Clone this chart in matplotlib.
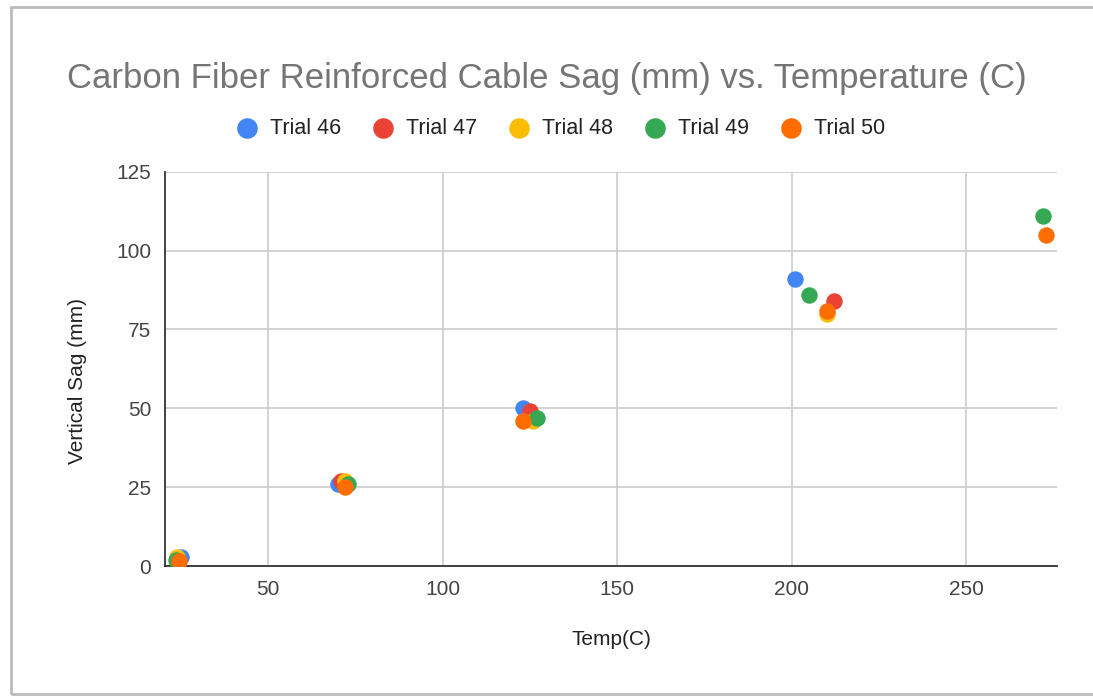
import matplotlib.pyplot as plt
from matplotlib.patches import Rectangle

plt.rcParams['font.family'] = ['Liberation Sans', 'DejaVu Sans']

# data: (temp, sag) per trial
trials = ["Trial 46", "Trial 47", "Trial 48", "Trial 49", "Trial 50"]
colors = ["#4285F4", "#EA4335", "#FBBC04", "#34A853", "#FF6D01"]

temp_46 = [25, 70, 123, 201]
sag_46 = [3, 26, 50, 91]
temp_47 = [24, 71, 125, 212]
sag_47 = [2, 27, 49, 84]
temp_48 = [24, 72, 126, 210]
sag_48 = [3, 27, 46, 80]
temp_49 = [23.5, 73, 127, 205, 272]
sag_49 = [2, 26, 47, 86, 111]
temp_50 = [24.5, 72, 123, 210, 273]
sag_50 = [1.5, 25, 46, 81, 105]

temps = [temp_46, temp_47, temp_48, temp_49, temp_50]
sags = [sag_46, sag_47, sag_48, sag_49, sag_50]

x_ticks = [50, 100, 150, 200, 250]
y_ticks = [0, 25, 50, 75, 100, 125]

fig = plt.figure(figsize=(10.93, 6.98), dpi=100)
ax = fig.add_axes([0.151, 0.189, 0.816, 0.565])

for name, c, t, s in zip(trials, colors, temps, sags):
    ax.scatter(t, s, s=140, color=c, label=name, zorder=3, linewidths=0)

ax.set_xlim(20.5, 276)
ax.set_ylim(0, 125)
ax.set_xticks(x_ticks)
ax.set_yticks(y_ticks)
ax.grid(True, color="#cccccc", linewidth=1.2, zorder=0)
ax.tick_params(length=0, labelsize=15, colors="#444444", pad=10)
for sp in ["top", "right"]:
    ax.spines[sp].set_visible(False)
for sp in ["left", "bottom"]:
    ax.spines[sp].set_color("#333333")
    ax.spines[sp].set_linewidth(1.3)

ax.set_xlabel("Temp(C)", fontsize=15, color="#222222", labelpad=22)
ax.set_ylabel("Vertical Sag (mm)", fontsize=15, color="#222222")
ax.yaxis.set_label_coords(-0.087, 0.47)

fig.text(0.5, 0.887, "Carbon Fiber Reinforced Cable Sag (mm) vs. Temperature (C)",
         ha="center", va="center", fontsize=25, color="#757575")

leg = ax.legend(loc="center", bbox_to_anchor=(0.512, 0.816), bbox_transform=fig.transFigure,
                ncol=5, frameon=False, fontsize=15.5, handletextpad=0.45, columnspacing=1.36,
                handlelength=1.2, markerscale=1.25)
for t in leg.get_texts():
    t.set_color("#222222")

# outer card border
fig.patches.append(Rectangle((0.010, 0.006), 1.2, 0.984, transform=fig.transFigure,
                             fill=False, edgecolor="#bbbbbb", linewidth=2))

fig.savefig("out.png", dpi=100)
